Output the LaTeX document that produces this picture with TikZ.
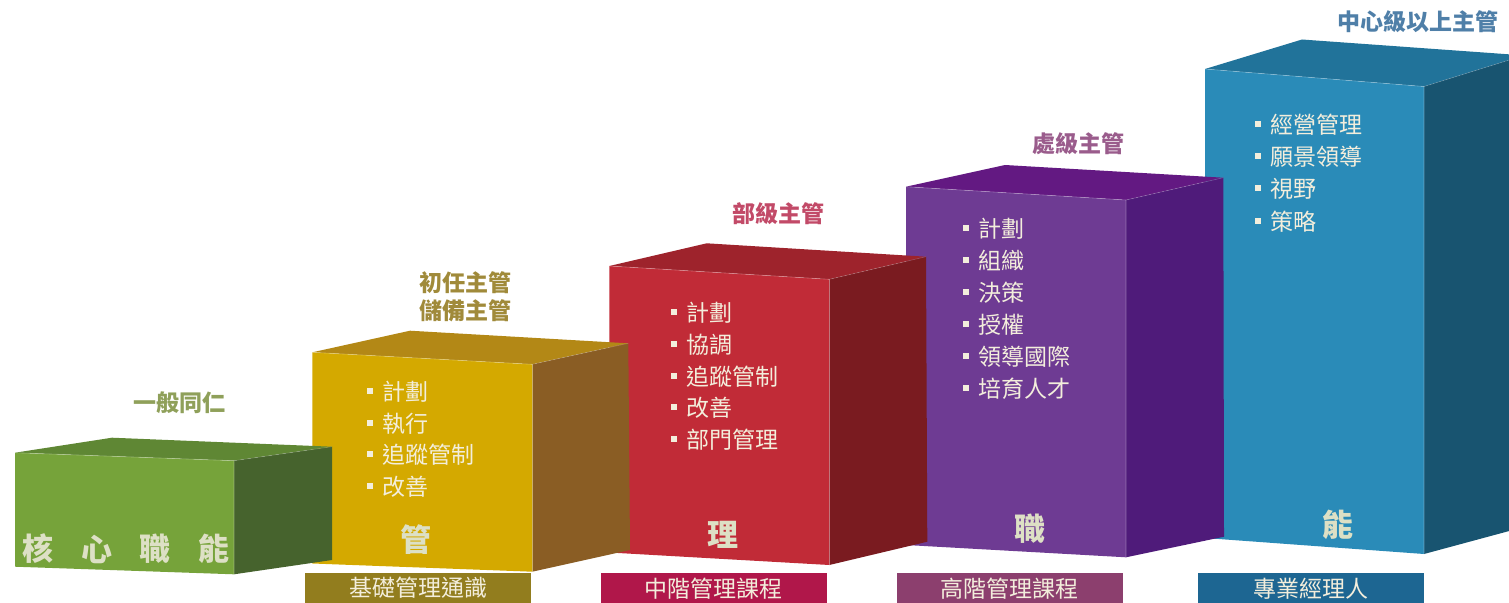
\documentclass[tikz,border=0pt]{standalone}
\usepackage{fontspec}
\setmainfont{Noto Sans CJK TC}
\definecolor{gF}{HTML}{76A33A}\definecolor{gT}{HTML}{5F8734}\definecolor{gR}{HTML}{46632D}
\definecolor{yF}{HTML}{D4A900}\definecolor{yT}{HTML}{B38816}\definecolor{yR}{HTML}{8A5D24}
\definecolor{rF}{HTML}{C12B37}\definecolor{rT}{HTML}{9E232C}\definecolor{rR}{HTML}{7A1B20}
\definecolor{pF}{HTML}{6E3B93}\definecolor{pT}{HTML}{631982}\definecolor{pR}{HTML}{4F1B7A}
\definecolor{bF}{HTML}{2A8BB8}\definecolor{bT}{HTML}{21739A}\definecolor{bR}{HTML}{185470}
\definecolor{tG}{HTML}{8FA05A}\definecolor{tY}{HTML}{A08A3A}\definecolor{tR}{HTML}{C24A68}
\definecolor{tP}{HTML}{9A5C8C}\definecolor{tB}{HTML}{4F7FA8}
\definecolor{lY}{HTML}{927D1E}\definecolor{lR}{HTML}{B0174A}\definecolor{lP}{HTML}{8C3F6E}
\definecolor{lB}{HTML}{1D6692}
\definecolor{cream}{HTML}{DDE0C5}\definecolor{itemc}{HTML}{F3EEDC}
\newcommand\bul{\raisebox{6.5pt}{\rule{6pt}{6pt}}\hspace{9.5pt}}
\newcommand\blk[4]{%
  \fill[#3] (#1ftl) -- (#1btl) -- (#1btr) -- (#1ftr) -- cycle;
  \fill[#4] (#1ftr) -- (#1btr) -- (#1bbr) -- (#1fbr) -- cycle;
  \fill[#2] (#1ftl) -- (#1ftr) -- (#1fbr) -- (#1fbl) -- cycle;
  \draw[white, opacity=0.3, line width=0.6pt] (#1ftl) -- (#1ftr) -- (#1fbr);
  \draw[white, opacity=0.2, line width=0.6pt] (#1ftr) -- (#1btr);
}
\newcommand\items[5]{%
  \foreach \t [count=\i from 0] in {#3} {
    \node[item, anchor=base west] (#4-\i) at (#1, {#2+\i*#5}) {\bul\t};
  }%
}
\begin{document}
\begin{tikzpicture}[x=1pt, y=-1pt,
  item/.style={inner sep=0pt, text=itemc, font=\fontsize{23}{28}\selectfont},
  ttl/.style={inner sep=0pt, font=\fontsize{23}{28.3}\selectfont\bfseries, align=center},
  big/.style={inner sep=0pt, text=cream, font=\fontsize{31}{34}\selectfont\bfseries},
  lab/.style={inner sep=0pt, text=itemc, minimum width=226pt, minimum height=31pt,
    font=\fontsize{23}{28}\selectfont}]
\useasboundingbox (0,0) rectangle (1509,602);
% ---- blue block
\coordinate (Bftl) at (1205,69);   \coordinate (Bftr) at (1424,86.5);
\coordinate (Bfbr) at (1424,554);  \coordinate (Bfbl) at (1205,538);
\coordinate (Bbtl) at (1302,39.5); \coordinate (Bbtr) at (1524,55.4);
\coordinate (Bbbr) at (1524,527);
\blk{B}{bF}{bT}{bR}
% ---- purple block
\coordinate (Pftl) at (906,186.7);  \coordinate (Pftr) at (1126,200);
\coordinate (Pfbr) at (1126,557.3); \coordinate (Pfbl) at (906,545);
\coordinate (Pbtl) at (1005,165);   \coordinate (Pbtr) at (1223.3,177.7);
\coordinate (Pbbr) at (1224,536.7);
\blk{P}{pF}{pT}{pR}
% ---- red block
\coordinate (Rftl) at (609.3,266);   \coordinate (Rftr) at (829.3,279.3);
\coordinate (Rfbr) at (829.3,565);   \coordinate (Rfbl) at (609.3,552.5);
\coordinate (Rbtl) at (706.7,243.3); \coordinate (Rbtr) at (926,256.7);
\coordinate (Rbbr) at (927.3,541.7);
\blk{R}{rF}{rT}{rR}
% ---- yellow block
\coordinate (Yftl) at (312.3,352.3); \coordinate (Yftr) at (532.3,364.3);
\coordinate (Yfbr) at (532.3,571.7); \coordinate (Yfbl) at (312.3,563.5);
\coordinate (Ybtl) at (410,330.7);   \coordinate (Ybtr) at (628.3,343.3);
\coordinate (Ybbr) at (630,550);
\blk{Y}{yF}{yT}{yR}
% ---- green block
\coordinate (Gftl) at (15,452.7);  \coordinate (Gftr) at (234,460.7);
\coordinate (Gfbr) at (234,574.3); \coordinate (Gfbl) at (15,566.7);
\coordinate (Gbtl) at (112,437.7); \coordinate (Gbtr) at (332,446.7);
\coordinate (Gbbr) at (332,560);
\blk{G}{gF}{gT}{gR}
% ---- titles
\node[ttl, text=tG] (t1) at (179,403) {一般同仁};
\node[ttl, text=tY] (t2) at (465,297) {初任主管\\儲備主管};
\node[ttl, text=tR] (t3) at (778,214) {部級主管};
\node[ttl, text=tP] (t4) at (1078,144) {處級主管};
\node[ttl, text=tB] (t5) at (1418,22) {中心級以上主管};
% ---- bullet lists
\items{366.7}{400.2}{計劃,執行,追蹤管制,改善}{y}{31.8}
\items{670.3}{321.8}{計劃,協調,追蹤管制,改善,部門管理}{r}{31.7}
\items{963}{237.5}{計劃,組織,決策,授權,領導國際,培育人才}{p}{32}
\items{1254.3}{133.5}{經營管理,願景領導,視野,策略}{b}{32.2}
% ---- big characters
\node[big] (k1) at (38,549) {核};
\node[big] (k2) at (96.5,549) {心};
\node[big] (k3) at (155,549) {職};
\node[big] (k4) at (213.8,549) {能};
\node[big] (m1) at (415.8,540) {管};
\node[big] (m2) at (723.3,535) {理};
\node[big] (m3) at (1030,529) {職};
\node[big] (m4) at (1337.5,525) {能};
% ---- bottom labels
\node[lab, fill=lY] (c1) at (418,588) {基礎管理通識};
\node[lab, fill=lR] (c2) at (713.8,588.5) {中階管理課程};
\node[lab, fill=lP] (c3) at (1009.8,588.5) {高階管理課程};
\node[lab, fill=lB] (c4) at (1311.2,588.5) {專業經理人};
\end{tikzpicture}
\end{document}
